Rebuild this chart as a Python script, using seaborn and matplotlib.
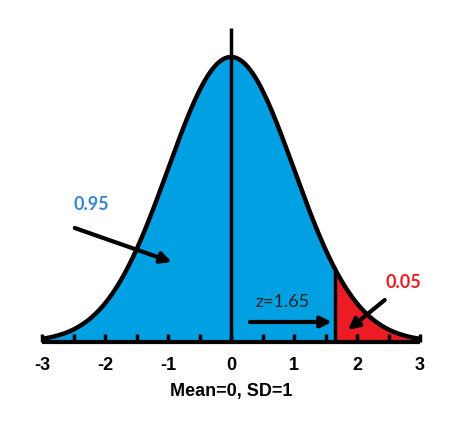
import numpy as np
import pandas as pd
import matplotlib
matplotlib.use("Agg")
import matplotlib.pyplot as plt
import seaborn as sns

#Distribution values
mean = 0
sd = 1
z_crit = 1.65
area_left = "0.95"
area_right = "0.05"
tick_vals = [-3, -2, -1, 0, 1, 2, 3]
tick_labels = ["-3", "-2", "-1", "0", "1", "2", "3"]
minor_vals = [-2.5, -1.5, -0.5, 0.5, 1.5, 2.5]

#Colors
blue = "#00A0E3"
red = "#EC1C24"

#Normal curve
x = np.linspace(-3, 3, 601)
y = np.exp(-0.5 * ((x - mean) / sd) ** 2) / (sd * np.sqrt(2 * np.pi))
curve = pd.DataFrame({"x": x, "y": y})

sns.set_style("white")
plt.rcParams["font.family"] = ["Liberation Sans", "DejaVu Sans"]

fig = plt.figure(figsize=(4.54, 4.25), dpi=100)
ax = fig.add_axes([42 / 454, 83 / 425, 378 / 454, 314 / 425])
ax.set_axisbelow(False)

#Fill areas
left_mask = curve["x"] <= z_crit
ax.fill_between(curve["x"], curve["y"], where=left_mask, color=blue, lw=0)
ax.fill_between(curve["x"], curve["y"], where=~left_mask, color=red, lw=0)

#Outline
sns.lineplot(data=curve, x="x", y="y", color="black", lw=3.2, ax=ax)

#Vertical lines at mean and z
ax.vlines(mean, 0, 0.4395, color="black", lw=2.5)
z_height = np.exp(-0.5 * ((z_crit - mean) / sd) ** 2) / (sd * np.sqrt(2 * np.pi))
ax.vlines(z_crit, 0, z_height, color="black", lw=2.5)

ax.set_xlim(-3, 3)
ax.set_ylim(0, 0.4395)

#Axis styling
for s in ["left", "top", "right"]:
    ax.spines[s].set_visible(False)
ax.spines["bottom"].set_linewidth(3)
ax.spines["bottom"].set_color("black")
ax.spines["bottom"].set_capstyle("butt")
ax.set_yticks([])
ax.set_xticks(tick_vals)
ax.set_xticklabels(tick_labels, fontweight="bold", fontsize=13)
ax.set_xticks(minor_vals, minor=True)
ax.tick_params(axis="x", which="both", bottom=True, direction="in", length=6,
               width=2.5, pad=11, color="black", labelcolor="black")
ax.set_xlabel("Mean=0, SD=1", fontweight="bold", fontsize=13, labelpad=6, color="black")
ax.set_ylabel("")

#Annotations
arrow = dict(arrowstyle="-|>", color="black", lw=3, mutation_scale=16, shrinkA=0, shrinkB=0)
ax.annotate("", xy=(-0.94, 0.112), xytext=(-2.48, 0.1596), arrowprops=arrow)
ax.annotate("", xy=(1.60, 0.028), xytext=(0.30, 0.028), arrowprops=arrow)
ax.annotate("", xy=(1.857, 0.0168), xytext=(2.44, 0.0588), arrowprops=arrow)

ax.text(-2.21, 0.1918, area_left, color="#3B86CC", fontsize=13, fontweight="bold",
        family=["Lato", "DejaVu Sans"], ha="center", va="center")
ax.text(2.73, 0.0826, area_right, color=red, fontsize=13, fontweight="bold",
        family=["Lato", "DejaVu Sans"], ha="center", va="center")
ax.text(0.825, 0.056, f"z={z_crit}", color="#222222", fontsize=13,
        family=["Lato", "DejaVu Sans"], ha="center", va="center")

fig.savefig("out.png", dpi=100)
